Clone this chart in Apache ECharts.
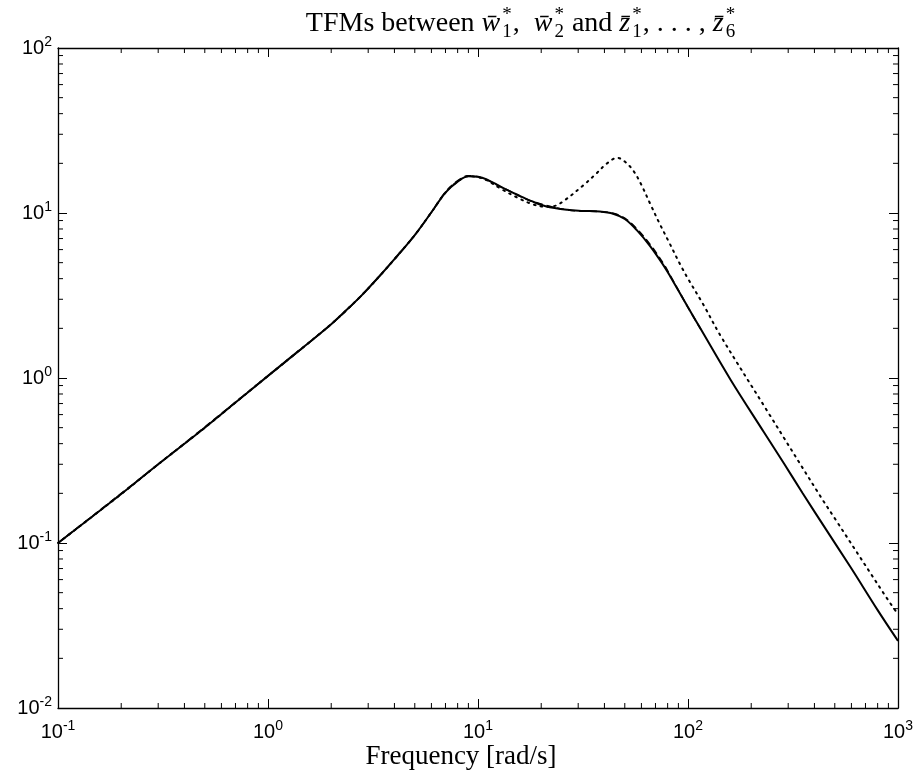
<!DOCTYPE html>
<html>
<head>
<meta charset="utf-8">
<script src="https://cdn.jsdelivr.net/npm/echarts@6/dist/echarts.min.js"></script>
<style>
  html, body { margin: 0; padding: 0; background: #fff; }
  #chart { width: 919px; height: 777px; }
</style>
</head>
<body>
<div id="chart"></div>
<script>
// frequencies [rad/s] and magnitudes
const freqSolid = [0.1, 0.2, 0.3, 0.5, 0.7, 1.0, 1.4, 2.0, 2.4, 2.8, 3.4, 4.0, 5.0, 6.0, 7.0, 8.0, 9.0, 10.0, 11.0, 13.0, 15.4, 18.0, 21.0, 26.6, 31.0, 38.0, 44.0, 50.0, 56.9, 66.0, 77.0, 83.0, 100.0, 115.0, 160.0, 230.0, 286.0, 351.0, 450.0, 596.0, 800.0, 1000.0];
const magSolid = [0.100, 0.198, 0.300, 0.50, 0.71, 1.03, 1.46, 2.12, 2.63, 3.18, 4.15, 5.25, 7.35, 10.1, 13.3, 15.5, 16.7, 16.6, 16.0, 14.3, 12.9, 11.8, 11.0, 10.45, 10.3, 10.2, 9.9, 9.2, 7.9, 6.3, 4.75, 4.05, 2.68, 1.98, 0.97, 0.469, 0.304, 0.201, 0.123, 0.071, 0.0392, 0.0255];

const freqDashed = [0.1, 0.3, 1.0, 2.0, 2.8, 4.0, 5.0, 6.0, 7.0, 8.0, 9.0, 10.0, 13.0, 18.0, 26.6, 38.0, 44.0, 50.0, 56.9, 66.0, 77.0, 83.0, 100.0, 115.0];
const magDashed = [0.100, 0.300, 1.03, 2.12, 3.18, 5.25, 7.35, 10.1, 13.4, 15.7, 16.8, 16.6, 14.3, 11.8, 10.45, 10.2, 9.95, 9.3, 8.05, 6.45, 4.85, 4.1, 2.68, 1.98];

const freqDotted = [0.1, 0.2, 0.3, 0.5, 0.7, 1.0, 1.4, 2.0, 2.4, 2.8, 3.4, 4.0, 5.0, 6.0, 7.0, 8.0, 9.0, 10.0, 11.0, 13.0, 15.4, 18.0, 21.0, 23.0, 26.0, 31.9, 36.0, 41.2, 46.0, 50.0, 55.0, 60.0, 66.0, 73.0, 81.0, 92.0, 100.0, 119.0, 143.0, 235.0, 428.0, 500.0, 889.0, 1000.0];
const magDotted = [0.100, 0.198, 0.300, 0.50, 0.71, 1.03, 1.46, 2.12, 2.63, 3.18, 4.15, 5.25, 7.35, 10.1, 13.3, 15.5, 16.7, 16.5, 15.8, 13.9, 12.4, 11.35, 10.9, 11.0, 12.0, 14.8, 17.0, 20.0, 21.6, 20.5, 18.0, 14.8, 11.4, 8.7, 6.7, 4.85, 4.0, 2.75, 1.8, 0.65, 0.191, 0.141, 0.0459, 0.037];

const xTicks = [0.1, 1, 10, 100, 1000];
const yTicks = [0.01, 0.1, 1, 10, 100];

const chart = echarts.init(document.getElementById('chart'), null, { renderer: 'canvas' });

const pairs = (xs, ys) => xs.map((x, i) => [x, ys[i]]);

// label like 10^-1 with a raised exponent
const powLabel = (v) => '{b|10}{s|' + Math.round(Math.log10(v)) + '}';
const labelRich = {
  b: { fontSize: 20, fontFamily: 'Liberation Sans', color: '#000', lineHeight: 26 },
  s: { fontSize: 14, fontFamily: 'Liberation Sans', color: '#000', verticalAlign: 'top', lineHeight: 14 }
};

const axisBase = {
  type: 'log',
  logBase: 10,
  axisLine: { show: true, onZero: false, lineStyle: { color: '#000', width: 1.3 } },
  axisTick: { show: true, inside: true, length: 9, lineStyle: { color: '#000', width: 1 } },
  splitLine: { show: false }
};

const grid = { left: 58, right: 21, top: 48, bottom: 69 };

chart.setOption({
  animation: false,
  backgroundColor: '#fff',
  grid: grid,
  xAxis: [
    Object.assign({}, axisBase, {
      min: 0.1, max: 1000, position: 'bottom',
      axisLabel: { show: true, margin: 11, formatter: powLabel, rich: labelRich }
    }),
    Object.assign({}, axisBase, {
      min: 0.1, max: 1000, position: 'top',
      axisLabel: { show: false }
    })
  ],
  yAxis: [
    Object.assign({}, axisBase, {
      min: 0.01, max: 100, position: 'left',
      axisLabel: { show: true, margin: 6, formatter: powLabel, rich: labelRich }
    }),
    Object.assign({}, axisBase, {
      min: 0.01, max: 100, position: 'right',
      axisLabel: { show: false }
    })
  ],
  series: [
    {
      name: 'dotted', type: 'line', data: pairs(freqDotted, magDotted),
      showSymbol: false, smooth: 0.35, clip: true,
      lineStyle: { color: '#000', width: 2, type: [1.6, 5.2], cap: 'round' }
    },
    {
      name: 'dashed', type: 'line', data: pairs(freqDashed, magDashed),
      showSymbol: false, smooth: 0.35, clip: true,
      lineStyle: { color: '#000', width: 1.6, type: [7, 4] }
    },
    {
      name: 'solid', type: 'line', data: pairs(freqSolid, magSolid),
      showSymbol: false, smooth: 0.35, clip: true,
      lineStyle: { color: '#000', width: 2 }
    }
  ]
});

// minor ticks (2..9 of each decade) on all four sides
const gx0 = grid.left, gx1 = 919 - grid.right, gy0 = grid.top, gy1 = 777 - grid.bottom;
const extras = [];
const tickLine = (x1, y1, x2, y2) => ({
  type: 'line', silent: true,
  shape: { x1: x1, y1: y1, x2: x2, y2: y2 },
  style: { stroke: '#000', lineWidth: 1 }
});
for (let d = 0; d < xTicks.length - 1; d++) {
  for (let k = 2; k <= 9; k++) {
    const px = chart.convertToPixel({ xAxisIndex: 0 }, xTicks[d] * k);
    extras.push(tickLine(px, gy1, px, gy1 - 5));
    extras.push(tickLine(px, gy0, px, gy0 + 5));
  }
}
for (let d = 0; d < yTicks.length - 1; d++) {
  for (let k = 2; k <= 9; k++) {
    const py = chart.convertToPixel({ yAxisIndex: 0 }, yTicks[d] * k);
    extras.push(tickLine(gx0, py, gx0 + 5, py));
    extras.push(tickLine(gx1, py, gx1 - 5, py));
  }
}

// title: pieces laid out by hand so the sub/superscripts stack like TeX
const serif = '"Liberation Serif"';
const ctx = document.createElement('canvas').getContext('2d');
const measure = (txt, font) => { ctx.font = font; return ctx.measureText(txt).width; };
const bigFont = '28px ' + serif, itFont = 'italic 28px ' + serif, smallFont = '19px ' + serif;
const titleParts = [
  ['r', 'TFMs between '], ['m', 'w\u0304'], ['st', '*', '1'], ['r', ',  '],
  ['m', 'w\u0304'], ['st', '*', '2'], ['r', ' and '],
  ['m', 'z\u0304'], ['st', '*', '1'], ['r', ', . . . , '],
  ['m', 'z\u0304'], ['st', '*', '6']
];
const partWidth = (p) => p[0] === 'r' ? measure(p[1], bigFont)
  : p[0] === 'm' ? measure(p[1], itFont) + 1
  : Math.max(measure(p[1], smallFont), measure(p[2], smallFont)) + 2;
const totalW = titleParts.reduce((s, p) => s + partWidth(p), 0);
let tx = 521 - totalW / 2;
const ty = 24;
const txt = (x, y, s, font) => ({
  type: 'text', silent: true, x: x, y: y,
  style: { text: s, font: font, fill: '#000', align: 'left', verticalAlign: 'middle' }
});
titleParts.forEach((p) => {
  if (p[0] === 'r') extras.push(txt(tx, ty, p[1], bigFont));
  else if (p[0] === 'm') extras.push(txt(tx, ty, p[1], itFont));
  else {
    extras.push(txt(tx + 1, ty - 9, p[1], smallFont));
    extras.push(txt(tx + 1, ty + 8, p[2], smallFont));
  }
  tx += partWidth(p);
});

// x axis label
extras.push({
  type: 'text', silent: true, x: 461, y: 757,
  style: { text: 'Frequency [rad/s]', font: '27px ' + serif, fill: '#000', align: 'center', verticalAlign: 'middle' }
});

chart.setOption({ graphic: { elements: extras } });
</script>
</body>
</html>
